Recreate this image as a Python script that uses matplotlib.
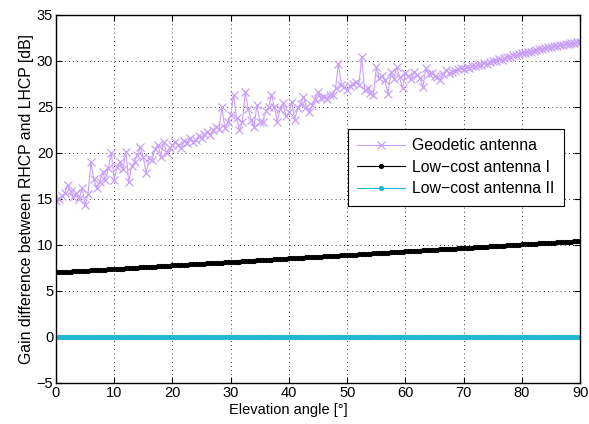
import numpy as np
import matplotlib
matplotlib.use("Agg")
import matplotlib.pyplot as plt

plt.rcParams['font.family'] = ['Liberation Sans', 'DejaVu Sans']
plt.rcParams['font.size'] = 10.5

# elevation angle, 0.5 deg steps
elev = np.arange(0, 90.5, 0.5)

geodetic = [
    14.8, 15.0, 15.3, 15.6, 16.5, 15.8, 15.2, 15.6, 15.0, 16.2,
    14.3, 15.5, 19.0, 17.2, 16.2, 16.8, 17.9, 17.1, 18.3, 20.0,
    17.1, 18.5, 19.0, 18.2, 20.1, 16.8, 18.6, 19.0, 19.8, 20.6,
    19.5, 17.8, 19.4, 19.2, 20.4, 20.9, 19.6, 21.2, 20.0, 20.5,
    20.8, 21.2, 20.9, 20.5, 21.3, 21.1, 21.6, 21.2, 21.4, 21.8,
    21.6, 22.0, 22.3, 21.9, 22.5, 22.8, 22.6, 25.0, 22.7, 23.3,
    24.1, 26.3, 23.8, 22.5, 23.3, 26.6, 24.8, 23.6, 22.8, 25.2,
    23.4, 23.4, 24.5, 25.0, 26.3, 25.0, 23.4, 24.8, 25.4, 24.0,
    24.4, 25.5, 23.6, 24.9, 25.3, 26.1, 25.0, 24.4, 25.2, 25.8,
    26.6, 26.0, 26.1, 25.9, 26.3, 26.3, 27.0, 29.7, 27.4, 27.2,
    26.8, 27.3, 27.5, 27.7, 27.4, 30.4, 26.8, 27.0, 26.5, 26.3,
    29.3, 28.1, 28.4, 27.9, 26.4, 28.8, 28.0, 29.3, 28.2, 27.0,
    28.7, 28.4, 28.0, 28.8, 28.5, 28.1, 27.2, 29.2, 28.6, 28.7,
    28.4, 28.2, 27.9, 28.6, 29.0, 28.7, 28.8, 28.9, 29.1, 29.2,
    29.1, 29.3, 29.2, 29.4, 29.4, 29.5, 29.6, 29.8, 29.7, 29.9,
    30.0, 30.0, 30.2, 30.1, 30.3, 30.4, 30.4, 30.6, 30.6, 30.7,
    30.8, 30.9, 31.0, 31.0, 31.1, 31.2, 31.3, 31.3, 31.4, 31.5,
    31.5, 31.6, 31.6, 31.7, 31.7, 31.8, 31.8, 31.9, 31.9, 32.0,
    32.1,
]

lowcost_1 = [
    7.00, 7.01, 7.03, 7.05, 7.07, 7.09, 7.11, 7.13, 7.15, 7.17,
    7.19, 7.20, 7.22, 7.24, 7.26, 7.28, 7.30, 7.32, 7.34, 7.36,
    7.38, 7.39, 7.41, 7.43, 7.45, 7.47, 7.49, 7.51, 7.53, 7.55,
    7.57, 7.58, 7.60, 7.62, 7.64, 7.66, 7.68, 7.70, 7.72, 7.74,
    7.76, 7.77, 7.79, 7.81, 7.83, 7.85, 7.87, 7.89, 7.91, 7.93,
    7.95, 7.96, 7.98, 8.00, 8.02, 8.04, 8.06, 8.08, 8.10, 8.12,
    8.14, 8.15, 8.17, 8.19, 8.21, 8.23, 8.25, 8.27, 8.29, 8.31,
    8.33, 8.34, 8.36, 8.38, 8.40, 8.42, 8.44, 8.46, 8.48, 8.50,
    8.52, 8.53, 8.55, 8.57, 8.59, 8.61, 8.63, 8.65, 8.67, 8.69,
    8.71, 8.72, 8.74, 8.76, 8.78, 8.80, 8.82, 8.84, 8.86, 8.88,
    8.90, 8.91, 8.93, 8.95, 8.97, 8.99, 9.01, 9.03, 9.05, 9.07,
    9.09, 9.10, 9.12, 9.14, 9.16, 9.18, 9.20, 9.22, 9.24, 9.26,
    9.28, 9.29, 9.31, 9.33, 9.35, 9.37, 9.39, 9.41, 9.43, 9.45,
    9.47, 9.48, 9.50, 9.52, 9.54, 9.56, 9.58, 9.60, 9.62, 9.64,
    9.66, 9.67, 9.69, 9.71, 9.73, 9.75, 9.77, 9.79, 9.81, 9.83,
    9.85, 9.86, 9.88, 9.90, 9.92, 9.94, 9.96, 9.98, 10.00, 10.02,
    10.04, 10.05, 10.07, 10.09, 10.11, 10.13, 10.15, 10.17, 10.19, 10.21,
    10.23, 10.24, 10.26, 10.28, 10.30, 10.32, 10.34, 10.36, 10.38, 10.40,
    10.42,
]

lowcost_2 = [
    0, 0, 0, 0, 0, 0, 0, 0, 0, 0, 0, 0, 0, 0, 0, 0, 0, 0, 0, 0,
    0, 0, 0, 0, 0, 0, 0, 0, 0, 0, 0, 0, 0, 0, 0, 0, 0, 0, 0, 0,
    0, 0, 0, 0, 0, 0, 0, 0, 0, 0, 0, 0, 0, 0, 0, 0, 0, 0, 0, 0,
    0, 0, 0, 0, 0, 0, 0, 0, 0, 0, 0, 0, 0, 0, 0, 0, 0, 0, 0, 0,
    0, 0, 0, 0, 0, 0, 0, 0, 0, 0, 0, 0, 0, 0, 0, 0, 0, 0, 0, 0,
    0, 0, 0, 0, 0, 0, 0, 0, 0, 0, 0, 0, 0, 0, 0, 0, 0, 0, 0, 0,
    0, 0, 0, 0, 0, 0, 0, 0, 0, 0, 0, 0, 0, 0, 0, 0, 0, 0, 0, 0,
    0, 0, 0, 0, 0, 0, 0, 0, 0, 0, 0, 0, 0, 0, 0, 0, 0, 0, 0, 0,
    0, 0, 0, 0, 0, 0, 0, 0, 0, 0, 0, 0, 0, 0, 0, 0, 0, 0, 0, 0,
    0,
]

fig = plt.figure(figsize=(5.89, 4.24), dpi=100)
ax = fig.add_axes([0.095, 0.097, 0.89, 0.868])

ax.plot(elev, geodetic, color='#c8a0f8', marker='x', markersize=6,
        markeredgewidth=0.9, linewidth=0.8, label='Geodetic antenna')
ax.plot(elev, lowcost_1, color='black', marker='.', markersize=5.5,
        linewidth=0.8, label='Low\u2212cost antenna I')
ax.plot(elev, lowcost_2, color='#1fb8d0', marker='.', markersize=5.5,
        linewidth=0.8, label='Low\u2212cost antenna II')

ax.set_xlim(0, 90)
ax.set_ylim(-5, 35)
ax.set_xticks(np.arange(0, 91, 10))
ax.set_yticks(np.arange(-5, 36, 5))
ax.set_yticklabels(['\u22125'] + [str(v) for v in range(0, 36, 5)])
ax.tick_params(direction='in', top=True, right=True, length=4, width=0.8, pad=2)
ax.grid(True, color='black', linestyle=(0, (1, 4)), linewidth=0.6)
for sp in ax.spines.values():
    sp.set_linewidth(1.0)

ax.set_xlabel('Elevation angle [\u00b0]')
ax.xaxis.set_label_coords(0.443, -0.055)
ax.set_ylabel('Gain difference between RHCP and LHCP [dB]', fontsize=11.4, labelpad=2)

leg = ax.legend(loc='upper left', bbox_to_anchor=(0.557, 0.69), fancybox=False,
                framealpha=1, edgecolor='black', handlelength=3.0,
                borderpad=0.6, labelspacing=0.4, handletextpad=0.45,
                borderaxespad=0, prop={'size': 11.4})
leg.get_frame().set_linewidth(0.8)

fig.savefig('out.png', dpi=100)
